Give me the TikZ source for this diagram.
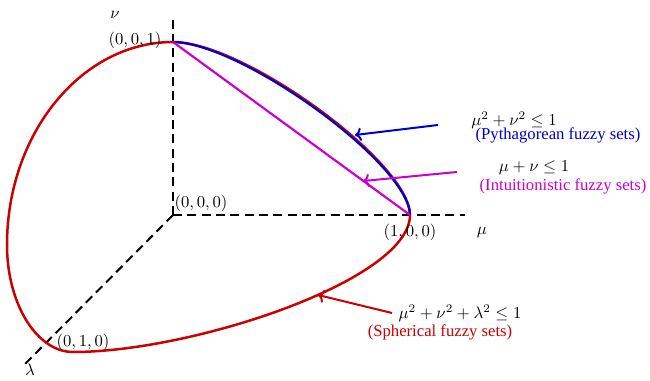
\documentclass[tikz,border=0pt]{standalone}
\usepackage{amsmath,amssymb}
\usepackage{fontspec}
\setmainfont{Liberation Serif}
\usepackage{tikz}
\usetikzlibrary{arrows.meta, positioning, calc}
\definecolor{sphred}{HTML}{CC0000}
\definecolor{pytblue}{HTML}{0000CC}
\definecolor{intmag}{HTML}{CC00CC}

\begin{document}
\begin{tikzpicture}[x=0.6pt, y=0.6pt,
    axis/.style={black, line width=1.2pt, dash pattern=on 5.4pt off 3.2pt},
    curve/.style={line width=1.3pt},
    pointer/.style={line width=1.2pt, -{To[scale=0.9]}}]
    \useasboundingbox (-173,-166) rectangle (477,215);

    % Points on the axes
    \coordinate (O) at (0,0);
    \coordinate (P100) at (237,0);
    \coordinate (P001) at (0,173);
    \coordinate (P010) at (-130,-130);
    \coordinate (B) at (-100,-137);
    \coordinate (L) at (-166,-30);

    % Axes
    \coordinate (muend) at (292,0);
    \coordinate (nuend) at (0,200);
    \coordinate (laend) at (-148,-149);
    \draw[axis] (O) -- (muend);
    \draw[axis] (O) -- (nuend);
    \draw[axis] (O) -- (laend);

    % Spherical fuzzy sets
    \draw[curve, line width=1.5pt, sphred] (P001) .. controls (71,173) and (237,52) .. (P100)
        .. controls (237,-65) and (20,-137) .. (B)
        .. controls (-136,-137) and (-166,-89) .. (L)
        .. controls (-166,82) and (-91,173) .. (P001);

    % Pythagorean fuzzy sets
    \draw[curve, pytblue] (P001) .. controls (69,172) and (236,51) .. (P100);

    % Intuitionistic fuzzy sets
    \draw[curve, intmag] (P001) -- (P100);

    % Axis and point labels
    \node (nu) at (-58,200) {$\nu$};
    \node (mu) at (309,-18) {$\mu$};
    \node (la) at (-143,-155) {$\lambda$};
    \node (l001) at (-38,175) {$(0,0,1)$};
    \node (l000) at (28,12) {$(0,0,0)$};
    \node (l100) at (237,-17) {$(1,0,0)$};
    \node (l010) at (-90,-127) {$(0,1,0)$};

    % Pointers to the curves
    \node (pytf) at (341,95) {$\mu^2+\nu^2\leq 1$};
    \node[pytblue] (pytt) at (385,80) {(Pythagorean fuzzy sets)};
    \coordinate (pyttail) at (265,90);
    \coordinate (pyttip) at (182,80);
    \draw[pointer, pytblue] (pyttail) -- (pyttip);

    \node (intf) at (361,47) {$\mu+\nu\leq 1$};
    \node[intmag] (intt) at (390,29) {(Intuitionistic fuzzy sets)};
    \coordinate (inttail) at (284,43);
    \coordinate (inttip) at (190,34);
    \draw[pointer, intmag] (inttail) -- (inttip);

    \node (sphf) at (287,-98) {$\mu^2+\nu^2+\lambda^2\leq 1$};
    \node[sphred] (spht) at (267,-117) {(Spherical fuzzy sets)};
    \coordinate (sphtail) at (219,-98);
    \coordinate (sphtip) at (145,-80);
    \draw[pointer, sphred] (sphtail) -- (sphtip);
\end{tikzpicture}
\end{document}
